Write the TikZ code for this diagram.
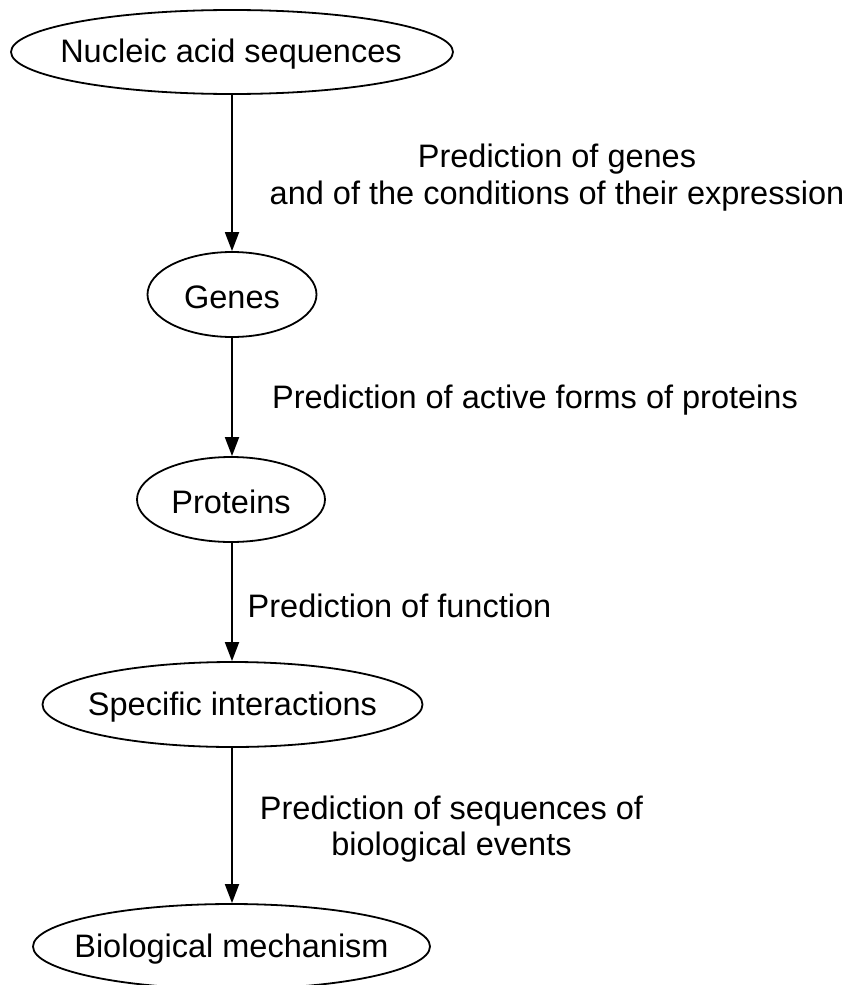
\documentclass[tikz,border=0pt]{standalone}
\usepackage{fontspec}
\setmainfont{Liberation Sans}
\usetikzlibrary{shapes.geometric,arrows.meta}
\begin{document}
\begin{tikzpicture}[x=1pt,y=-1pt,
  state/.style={ellipse,draw,line width=1.8pt,inner sep=0pt},
  statetext/.style={inner sep=0pt,font=\fontsize{32.5}{36.5}\selectfont},
  edgelabel/.style={align=center,inner sep=0pt,
    font=\fontsize{32.5}{36.5}\selectfont},
  flow/.style={line width=1.8pt,-{Triangle[length=19pt,width=14pt]}}]
  \useasboundingbox (0,0) rectangle (853,985);
  % process stages (outline, then caption)
  \node[state,minimum width=442pt,minimum height=84pt] (nucleic) at (232,52) {};
  \node[state,minimum width=169pt,minimum height=85pt] (genes) at (232,294.5) {};
  \node[state,minimum width=188pt,minimum height=85pt] (proteins) at (231,499.5) {};
  \node[state,minimum width=380pt,minimum height=85pt] (interact) at (232.5,704.5) {};
  \node[state,minimum width=397pt,minimum height=85pt] (mechanism) at (231.5,946.5) {};
  \node[statetext] (nucleictext) at (231,54) {Nucleic acid sequences};
  \node[statetext] (genestext) at (232,297) {Genes};
  \node[statetext] (proteinstext) at (231,502) {Proteins};
  \node[statetext] (interacttext) at (232.5,707) {Specific interactions};
  \node[statetext] (mechanismtext) at (231.5,949) {Biological mechanism};
  % transitions between stages
  \draw[flow] (nucleic.south -| 232,0) -- (genes.north -| 232,0);
  \draw[flow] (genes.south -| 232,0) -- (proteins.north -| 232,0);
  \draw[flow] (proteins.south -| 232,0) -- (interact.north -| 232,0);
  \draw[flow] (interact.south -| 232,0) -- (mechanism.north -| 232,0);
  % transition labels
  \node[edgelabel] (l1) at (557,177.5) {Prediction of genes\\and of the conditions of their expression};
  \node[edgelabel] (l2) at (535,400.5) {Prediction of active forms of proteins};
  \node[edgelabel] (l3) at (399.5,605.5) {Prediction of function};
  \node[edgelabel] (l4) at (451.5,829) {Prediction of sequences of\\biological events};
\end{tikzpicture}
\end{document}
